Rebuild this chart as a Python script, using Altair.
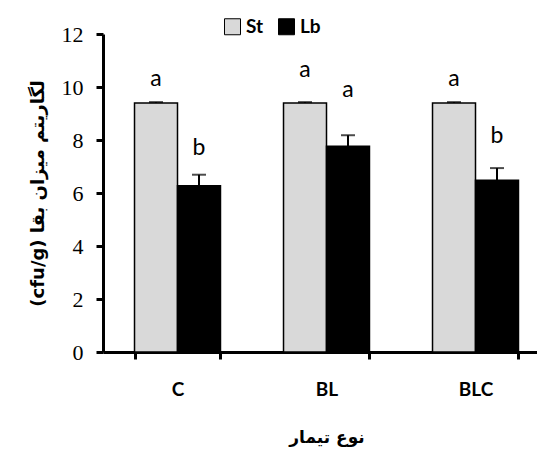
import altair as alt
import pandas as pd

cats = ["C", "BL", "BLC"]
series = ["St", "Lb"]
st_vals = [9.4, 9.4, 9.4]
st_err = [0.03, 0.03, 0.03]
lb_vals = [6.27, 7.76, 6.48]
lb_err = [0.42, 0.42, 0.46]
st_letters = ["a", "a", "a"]
lb_letters = ["b", "a", "b"]
st_letter_y = [10.32, 10.66, 10.32]
lb_letter_y = [7.69, 9.87, 8.14]

rows = []
for i, c in enumerate(cats):
    rows.append(dict(cat=c, series="St", value=st_vals[i], top=st_vals[i] + st_err[i],
                     letter=st_letters[i], ly=st_letter_y[i]))
    rows.append(dict(cat=c, series="Lb", value=lb_vals[i], top=lb_vals[i] + lb_err[i],
                     letter=lb_letters[i], ly=lb_letter_y[i]))
df = pd.DataFrame(rows)

x_enc = alt.X(
    "cat:N", sort=cats,
    scale=alt.Scale(range=[0, 447], paddingInner=0.423, paddingOuter=0.2115),
    axis=alt.Axis(
        title="نوع تیمار", labelAngle=0, labelFont="Lato", labelFontWeight="bold",
        labelFontSize=19, labelPadding=21, tickBand="extent",
        titleFont="DejaVu Sans", titleFontWeight="bold", titleFontSize=17, titlePadding=30,
        domainColor="black", domainWidth=3, tickColor="black", tickWidth=3, tickSize=7,
        grid=False, labelColor="black", titleColor="black",
    ),
)
xo_enc = alt.XOffset("series:N", sort=series, scale=alt.Scale(paddingInner=0, paddingOuter=0))
y_scale = alt.Scale(domain=[0, 12], nice=False)

base = alt.Chart(df).encode(x=x_enc, xOffset=xo_enc)

bars = base.mark_bar(stroke="black", strokeWidth=1.5).encode(
    y=alt.Y(
        "value:Q", scale=y_scale, stack=None,
        axis=alt.Axis(
            values=[0, 2, 4, 6, 8, 10, 12],
            labelFont="Liberation Serif, Times New Roman, serif", labelFontSize=22,
            labelPadding=13, title="(cfu/g) لگاریتم میزان بقا", titleFont="DejaVu Sans",
            titleFontWeight="bold", titleFontSize=18, titlePadding=14,
            domainColor="black", domainWidth=3, tickColor="black", tickWidth=3, tickSize=7,
            grid=False, labelColor="black", titleColor="black",
        ),
    ),
    color=alt.Color(
        "series:N", scale=alt.Scale(domain=series, range=["#d9d9d9", "#000000"]),
        legend=alt.Legend(
            title=None, orient="none", legendX=120, legendY=-17, direction="horizontal",
            symbolType="square", symbolSize=256, symbolStrokeColor="black",
            symbolStrokeWidth=1, symbolOpacity=1, labelFont="Lato", labelFontWeight="bold",
            labelFontSize=19, columnPadding=12, labelOffset=4,
        ),
    ),
)

err_rule = base.mark_rule(color="black", strokeWidth=2).encode(
    y=alt.Y("value:Q"), y2="top:Q"
)
err_cap = base.mark_tick(color="black", thickness=2, size=14).encode(
    y=alt.Y("top:Q")
)
letters = base.mark_text(font="Lato", fontSize=23, color="black", baseline="middle").encode(
    y=alt.Y("ly:Q"), text="letter:N"
)

chart = (
    alt.layer(bars, err_rule, err_cap, letters)
    .properties(
        width=434, height=318,
        autosize=alt.AutoSizeParams(type="none"),
        padding={"left": 95, "top": 26, "right": 0, "bottom": 98},
        background="white",
    )
    .configure_view(stroke=None)
)

chart.save("out.html", embed_options={"renderer": "svg", "actions": False})
